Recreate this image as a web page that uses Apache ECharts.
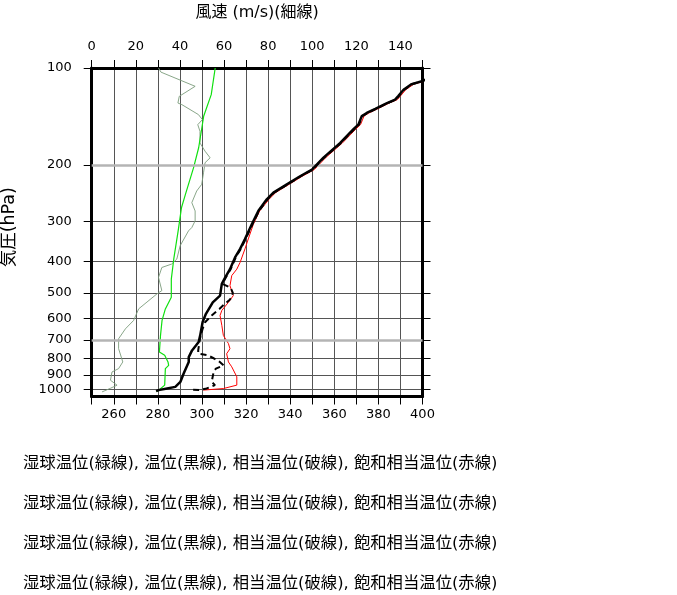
<!DOCTYPE html>
<html>
<head>
<meta charset="utf-8">
<script src="https://cdn.jsdelivr.net/npm/echarts@6.0.0/dist/echarts.min.js"></script>
<style>
html,body{margin:0;padding:0;background:#fff;}
#chart{width:677px;height:595px;}
</style>
</head>
<body>
<div id="chart"></div>
<script>
// ---- data ----
const pressureTicks = [100, 200, 300, 400, 500, 600, 700, 800, 900, 1000];
const grayLevels = [200, 700];

// wind speed (m/s), thin line, top axis
const windP = [100, 103, 114, 122.5, 128.5, 130, 139.6, 144.7, 150, 157.3, 171, 181.4, 190.2, 197, 211.7, 229.9, 241.2, 262.2, 278.2, 298.7, 313.3, 320.8, 357, 392.6, 406.8, 417, 447.6, 492, 503.6, 560.7, 609.3, 646.7, 694.5, 745.6, 820, 860, 881, 934.5, 968.3, 990, 1016];
const windSpeed = [30.3, 31.4, 46.9, 39.7, 39.1, 40.9, 48.4, 50.2, 48.1, 49.1, 49.1, 51.4, 53.7, 51.4, 50.7, 49.9, 47.6, 45.4, 46.9, 46.9, 45.4, 43.9, 40.1, 38.6, 36.3, 31.8, 30.3, 31.8, 29.6, 21.3, 19.0, 15.3, 12.2, 12.2, 14.1, 12.2, 9.2, 8.5, 11.5, 8.5, 4.7];

// wet-bulb potential temperature (green)
const greenP = [1012, 1004, 968, 860, 840, 820, 782, 764, 678, 609, 561, 516, 453, 393, 321, 272, 247, 204, 177, 141, 121, 100];
const greenT = [279.4, 280.4, 283.1, 283.4, 284.9, 284.6, 283.1, 280.7, 281.2, 281.9, 283.4, 286.1, 286.1, 287.2, 289.2, 290.7, 292.5, 296.2, 298.5, 300.8, 304.2, 306.0];

// potential temperature (black)
const thetaP = [1010, 1003, 991, 980, 946, 891, 820, 792, 755, 711, 678, 616, 581, 535, 510, 469, 448, 422, 388, 365, 340, 306, 278, 256, 244, 230, 217, 207, 190, 171, 155, 150, 141, 138, 134, 128.5, 125.4, 122, 116.8, 112.2, 110, 108.5];
const thetaT = [279.2, 280.3, 284.2, 287.9, 290.2, 291.7, 294.0, 294.0, 295.5, 298.5, 299.2, 300.3, 301.8, 304.9, 308.2, 309.0, 310.5, 312.7, 315.0, 317.3, 319.5, 322.6, 325.6, 329.4, 332.4, 338.5, 344.5, 349.9, 355.1, 362.7, 368.7, 370.9, 372.5, 374.7, 378.6, 383.9, 387.6, 389.1, 391.4, 395.1, 399.7, 401.5];

// equivalent potential temperature (dashed)
const thetaEP = [1001, 1003, 991, 968, 946, 880, 860, 840, 820, 800, 782, 773, 754, 694, 647, 617, 588, 560, 540, 525, 516, 500, 482, 469, 448, 422, 388, 365, 340, 306, 278, 256, 244, 230, 217, 207, 190, 171, 155, 150, 141, 138, 134, 128.5, 125.4, 122, 116.8, 112.2, 110, 108.5];
const thetaET = [296.0, 299.1, 302.1, 305.9, 304.4, 305.3, 306.3, 309.8, 308.1, 305.5, 302.7, 298.3, 298.3, 299.1, 300.3, 301.4, 304.4, 308.0, 310.5, 312.6, 313.5, 314.0, 313.0, 309.3, 310.8, 313.0, 315.3, 317.6, 319.8, 322.9, 325.9, 329.7, 332.7, 338.8, 344.8, 350.2, 355.4, 363.0, 369.0, 371.2, 372.8, 375.0, 378.9, 384.2, 387.9, 389.4, 391.7, 395.4, 400.0, 401.8];

// saturated equivalent potential temperature (red)
const thetaESP = [1003, 992, 968, 912, 849, 820, 773, 746, 719, 678, 631, 588, 567, 535, 510, 475, 442, 422, 402, 365, 340, 306, 278, 256, 244, 230, 217, 207, 190, 171, 155, 150, 141, 138, 134, 128.5, 125.4, 122, 116.8, 112.2, 110, 108.5];
const thetaEST = [300.6, 309.7, 315.8, 315.8, 313.5, 312.0, 311.2, 312.7, 312.0, 309.7, 309.0, 308.2, 309.0, 312.0, 314.2, 312.7, 313.5, 315.8, 317.3, 319.5, 321.0, 323.3, 326.2, 330.4, 333.4, 339.5, 345.5, 350.9, 356.1, 363.7, 369.7, 371.9, 373.5, 375.7, 379.6, 384.9, 388.6, 390.1, 392.4, 396.1, 400.7, 402.5];

const captionLines = [
  '湿球温位(緑線), 温位(黒線), 相当温位(破線), 飽和相当温位(赤線)',
  '湿球温位(緑線), 温位(黒線), 相当温位(破線), 飽和相当温位(赤線)',
  '湿球温位(緑線), 温位(黒線), 相当温位(破線), 飽和相当温位(赤線)',
  '湿球温位(緑線), 温位(黒線), 相当温位(破線), 飽和相当温位(赤線)'
];

// ---- chart ----
const FONT = '"DejaVu Sans", "Noto Sans CJK JP", sans-serif';
const zip = (xs, ps) => xs.map((x, i) => [x, ps[i]]);

const chart = echarts.init(document.getElementById('chart'), null, {renderer: 'canvas'});

const axisLineStyle = {color: '#000', width: 3};
const tickStyle = {color: '#000', width: 1};

const option = {
  animation: false,
  backgroundColor: '#fff',
  textStyle: {fontFamily: FONT},
  grid: {left: 91.7, right: 254.5, top: 66.5, bottom: 198.5, containLabel: false},
  xAxis: [
    {
      type: 'value', position: 'bottom', min: 250, max: 400, interval: 10,
      axisLine: {show: true, onZero: false, lineStyle: axisLineStyle},
      axisTick: {show: true, inside: false, length: 8, lineStyle: tickStyle},
      axisLabel: {
        color: '#000', fontSize: 13, fontFamily: FONT, margin: 12,
        formatter: v => ((v - 260) % 20 === 0 ? String(v) : '')
      },
      splitLine: {show: true, lineStyle: {color: '#555', width: 1}}
    },
    {
      type: 'value', position: 'top', min: 0, max: 150, interval: 10,
      name: '風速 (m/s)(細線)', nameLocation: 'middle', nameGap: 47,
      nameTextStyle: {color: '#000', fontSize: 16, fontFamily: FONT},
      axisLine: {show: true, onZero: false, lineStyle: axisLineStyle},
      axisTick: {show: true, inside: false, length: 8, lineStyle: tickStyle},
      axisLabel: {
        color: '#000', fontSize: 13, fontFamily: FONT, margin: 15,
        formatter: v => (v % 20 === 0 ? String(v) : '')
      },
      splitLine: {show: false}
    }
  ],
  yAxis: [
    {
      type: 'log', logBase: 10, min: 100, max: 1050, inverse: true, position: 'left',
      name: '気圧(hPa)', nameLocation: 'middle', nameGap: 73, nameRotate: 90,
      nameTextStyle: {color: '#000', fontSize: 17.5, fontFamily: FONT, padding: [0, 0, 0, 10]},
      axisLine: {show: true, onZero: false, lineStyle: axisLineStyle},
      axisTick: {show: true, inside: false, length: 8, lineStyle: tickStyle, customValues: pressureTicks},
      axisLabel: {color: '#000', fontSize: 13, fontFamily: FONT, margin: 20, customValues: pressureTicks,
        formatter: v => String(Math.round(v))},
      splitLine: {show: true, lineStyle: {color: '#555', width: 1}},
      minorTick: {show: false}, minorSplitLine: {show: false}
    },
    {
      type: 'log', logBase: 10, min: 100, max: 1050, inverse: true, position: 'right',
      axisLine: {show: true, onZero: false, lineStyle: axisLineStyle},
      axisTick: {show: true, inside: false, length: 8, lineStyle: tickStyle, customValues: pressureTicks},
      axisLabel: {show: false, customValues: pressureTicks},
      splitLine: {show: false}
    }
  ],
  graphic: captionLines.map((t, i) => ({
    type: 'text', left: 23, top: 456 + i * 40,
    style: {text: t, fill: '#000', fontSize: 16.35, fontFamily: FONT}
  })),
  series: [
    {
      name: 'wind', type: 'line', xAxisIndex: 1, yAxisIndex: 0,
      data: zip(windSpeed, windP), showSymbol: false, symbol: 'none', silent: true,
      lineStyle: {color: '#7c9c7c', width: 0.9},
      markLine: {
        silent: true, symbol: 'none', label: {show: false},
        lineStyle: {color: '#b4b4b4', width: 2.5, type: 'solid'},
        data: grayLevels.map(p => ({yAxis: p}))
      },
      z: 2
    },
    {
      name: 'green', type: 'line', xAxisIndex: 0, yAxisIndex: 0,
      data: zip(greenT, greenP), showSymbol: false, symbol: 'none', silent: true,
      lineStyle: {color: '#10e010', width: 1.2}, z: 3
    },
    {
      name: 'red', type: 'line', xAxisIndex: 0, yAxisIndex: 0,
      data: zip(thetaEST, thetaESP), showSymbol: false, symbol: 'none', silent: true,
      lineStyle: {color: '#ff0000', width: 1}, z: 4
    },
    {
      name: 'dashed', type: 'line', xAxisIndex: 0, yAxisIndex: 0,
      data: zip(thetaET, thetaEP), showSymbol: false, symbol: 'none', silent: true,
      lineStyle: {color: '#000', width: 2, type: [6, 4]}, z: 5
    },
    {
      name: 'theta', type: 'line', xAxisIndex: 0, yAxisIndex: 0,
      data: zip(thetaT, thetaP), showSymbol: false, symbol: 'none', silent: true,
      lineStyle: {color: '#000', width: 2.5}, z: 6
    }
  ]
};
chart.setOption(option);
</script>
</body>
</html>
